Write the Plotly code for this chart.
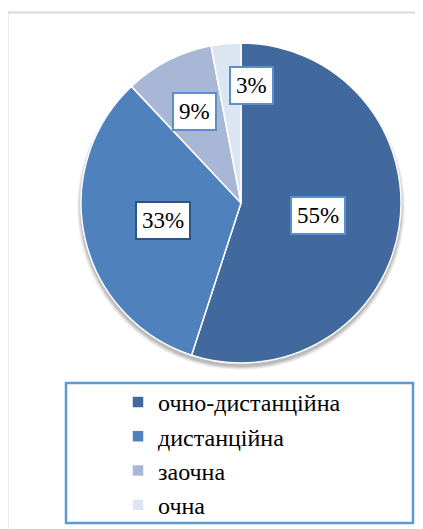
import math
import plotly.graph_objects as go

categories = ["очно-дистанційна", "дистанційна", "заочна", "очна"]
values = [55, 33, 9, 3]
label_texts = ["55%", "33%", "9%", "3%"]

colors = ["#41699E", "#4F81BD", "#A8B7D6", "#DCE6F2"]
label_border = ["#5B8FCC", "#2B5486", "#5B8FCC", "#5B8FCC"]
label_rfrac = [0.49, 0.50, 0.64, 0.74]
label_nudge_px = [(0, 0), (0, 0), (0, 0), (22, 0)]

FONT = "'Liberation Serif', 'Times New Roman', serif"

OFF = 8  # page body margin
W, H = 423 - OFF, 529 - OFF
cx, cy, R = 241 - OFF, 203 - OFF, 160  # pie centre / radius in px (layout)


def px2paper(x, y):
    return (x - OFF) / W, 1 - (y - OFF) / H


fig = go.Figure()
fig.add_trace(go.Pie(
    labels=categories, values=values, sort=False, direction="clockwise",
    rotation=0, marker=dict(colors=colors, line=dict(color="white", width=1.5)),
    textinfo="none", hoverinfo="label+percent",
    domain=dict(x=[(cx - R) / W, (cx + R) / W], y=[1 - (cy + R) / H, 1 - (cy - R) / H]),
))

total = sum(values)
cum = 0
annotations = []
for i, v in enumerate(values):
    mid = (cum + v / 2) / total * 2 * math.pi
    cum += v
    d = label_rfrac[i] * R
    px = cx + d * math.sin(mid) + label_nudge_px[i][0]
    py = cy - d * math.cos(mid) + label_nudge_px[i][1]
    annotations.append(dict(
        x=px / W, y=1 - py / H, xref="paper", yref="paper", showarrow=False,
        xanchor="center", yanchor="middle",
        text=label_texts[i], font=dict(family=FONT, size=23, color="black"),
        bgcolor="white", bordercolor=label_border[i], borderwidth=2, borderpad=5,
    ))

fx0, fy1 = px2paper(7.5, 12.5)
lx0, ly1 = px2paper(66, 383)
lx1, ly0 = px2paper(413, 523)
shapes = []
# soft shadow under the pie
for k, (grow, alpha) in enumerate([(4, 0.05), (3, 0.06), (2, 0.08), (1, 0.10)]):
    sx0, sy1 = (cx - R - grow) / W, 1 - (cy - R + 2) / H
    sx1, sy0 = (cx + R + grow) / W, 1 - (cy + R + 3 + grow) / H
    shapes.append(dict(type="circle", xref="paper", yref="paper", x0=sx0, x1=sx1, y0=sy0, y1=sy1,
                       line=dict(width=0), fillcolor=f"rgba(0,0,0,{alpha})", layer="below"))
shapes += [
    dict(type="rect", xref="paper", yref="paper", x0=fx0, x1=1.05, y0=-0.05, y1=fy1,
         line=dict(color="#D9D9D9", width=2), fillcolor="rgba(0,0,0,0)", layer="below"),
    dict(type="rect", xref="paper", yref="paper", x0=lx0, x1=lx1, y0=ly0, y1=ly1,
         line=dict(color="#5B9BD5", width=2.5), fillcolor="rgba(0,0,0,0)"),
]

legx, legy = px2paper(118, 380)
fig.update_layout(
    width=W, height=H, margin=dict(l=0, r=0, t=0, b=0),
    paper_bgcolor="white", plot_bgcolor="white",
    showlegend=True,
    legend=dict(x=legx, y=legy, xanchor="left", yanchor="top",
                font=dict(family=FONT, size=24, color="black"),
                bgcolor="rgba(0,0,0,0)", borderwidth=0, tracegroupgap=0),
    annotations=annotations, shapes=shapes,
)

fig.write_html("out.html")
